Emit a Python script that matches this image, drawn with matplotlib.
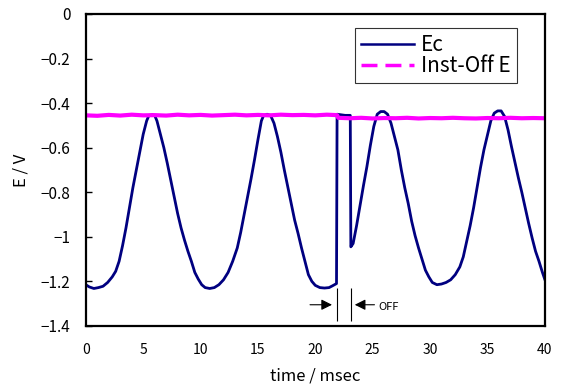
import matplotlib
matplotlib.use("Agg")
import matplotlib.pyplot as plt
from matplotlib.lines import Line2D
from matplotlib.ticker import FuncFormatter

plt.rcParams['font.family'] = ['Noto Sans CJK JP', 'DejaVu Sans']

# Ec (time in msec, E in V)
ec_time = [0.0, 0.3, 0.7, 1.1, 1.5, 1.9, 2.3, 2.6, 2.9, 3.2, 3.5, 3.8, 4.1, 4.4, 4.7,
           5.0, 5.3, 5.5, 5.8, 6.0, 6.2, 6.5, 6.8, 7.1, 7.4, 7.7, 8.0, 8.3, 8.6, 8.9,
           9.2, 9.5, 9.8, 10.1, 10.4, 10.8, 11.2, 11.6, 12.0, 12.4, 12.8, 13.2, 13.5,
           13.8, 14.1, 14.4, 14.7, 15.0, 15.3, 15.5, 15.8, 16.1, 16.4, 16.7, 17.0,
           17.3, 17.6, 17.9, 18.2, 18.5, 18.8, 19.1, 19.4, 19.7, 20.0, 20.4, 20.8,
           21.2, 21.5, 21.85, 21.9, 22.2, 22.6, 23.05, 23.1, 23.3, 23.6, 23.9, 24.2,
           24.5, 24.8, 25.1, 25.4, 25.7, 26.0, 26.3, 26.6, 26.9, 27.2, 27.5, 27.8,
           28.1, 28.4, 28.7, 29.0, 29.3, 29.6, 29.9, 30.2, 30.6, 31.0, 31.4, 31.8,
           32.2, 32.6, 32.9, 33.2, 33.5, 33.8, 34.1, 34.4, 34.7, 35.0, 35.3, 35.6,
           35.9, 36.2, 36.5, 36.8, 37.1, 37.4, 37.7, 38.0, 38.3, 38.6, 38.9, 39.2,
           39.5, 39.8, 40.0]
ec_value = [-1.215, -1.225, -1.232, -1.228, -1.222, -1.205, -1.18, -1.155, -1.11,
            -1.04, -0.96, -0.87, -0.78, -0.70, -0.62, -0.54, -0.48, -0.455, -0.452,
            -0.455, -0.48, -0.54, -0.60, -0.67, -0.745, -0.82, -0.895, -0.96, -1.015,
            -1.065, -1.11, -1.16, -1.19, -1.215, -1.228, -1.232, -1.228, -1.215,
            -1.193, -1.16, -1.11, -1.05, -0.98, -0.90, -0.82, -0.74, -0.655, -0.565,
            -0.48, -0.455, -0.45, -0.455, -0.49, -0.55, -0.62, -0.70, -0.775, -0.85,
            -0.925, -0.985, -1.05, -1.11, -1.17, -1.20, -1.218, -1.228, -1.23, -1.228,
            -1.22, -1.21, -0.45, -0.452, -0.455, -0.455, -1.045, -1.03, -0.95, -0.86,
            -0.77, -0.685, -0.59, -0.505, -0.45, -0.438, -0.438, -0.45, -0.49, -0.55,
            -0.61, -0.70, -0.78, -0.85, -0.93, -0.995, -1.05, -1.10, -1.15, -1.18,
            -1.205, -1.215, -1.212, -1.205, -1.193, -1.17, -1.135, -1.09, -1.02,
            -0.95, -0.87, -0.78, -0.69, -0.61, -0.545, -0.48, -0.445, -0.435, -0.435,
            -0.46, -0.52, -0.595, -0.665, -0.735, -0.80, -0.87, -0.94, -1.005, -1.065,
            -1.11, -1.16, -1.19]

# instant-off potential
off_time = [0, 1, 2, 3, 4, 5, 6, 7, 8, 9, 10, 11, 12, 13, 14, 15, 16, 17, 18, 19, 20,
            21, 21.9, 22.0, 23, 24, 25, 26, 27, 28, 29, 30, 31, 32, 33, 34, 35, 36, 37,
            38, 39, 40]
off_value = [-0.455, -0.457, -0.453, -0.456, -0.452, -0.455, -0.454, -0.456, -0.452,
             -0.455, -0.453, -0.456, -0.454, -0.452, -0.455, -0.453, -0.455, -0.452,
             -0.454, -0.453, -0.455, -0.452, -0.454, -0.466, -0.468, -0.466, -0.469,
             -0.467, -0.468, -0.466, -0.469, -0.467, -0.468, -0.466, -0.468, -0.469,
             -0.467, -0.468, -0.466, -0.468, -0.467, -0.468]

off_start, off_end = 21.9, 23.1

fig = plt.figure(figsize=(5.61, 3.88), dpi=100)
ax = fig.add_axes([0.153, 0.160, 0.818, 0.804])

ax.plot(ec_time, ec_value, color='#000080', lw=2, solid_joinstyle='round')
ax.plot(off_time, off_value, color='#ff00ff', lw=3)

ax.set_xlim(0, 40)
ax.set_ylim(-1.4, 0)
ax.set_xticks(range(0, 41, 5))
ax.set_yticks([-1.4, -1.2, -1.0, -0.8, -0.6, -0.4, -0.2, 0])
ax.yaxis.set_major_formatter(FuncFormatter(lambda v, p: ('%g' % v).replace('-', '\u2212')))
ax.tick_params(axis='y', direction='in', length=4, width=1, pad=11, labelsize=11)
ax.tick_params(axis='x', length=0, pad=12, labelsize=10)
for s in ax.spines.values():
    s.set_linewidth(1.6)

ax.set_xlabel('time / msec', fontsize=12, labelpad=8)
ax.set_ylabel('E / V', fontsize=12, labelpad=8)

# interruption marker
ax.vlines([off_start, off_end], -1.38, -1.23, color='black', lw=0.8)
ax.annotate('', xy=(off_start - 0.2, -1.305), xytext=(off_start - 2.6, -1.305),
            arrowprops=dict(arrowstyle='-|>', color='black', lw=0.8, mutation_scale=16))
ax.annotate('', xy=(off_end + 0.1, -1.305), xytext=(off_end + 2.3, -1.305),
            arrowprops=dict(arrowstyle='-|>', color='black', lw=0.8, mutation_scale=16))
ax.text(off_end + 2.4, -1.315, 'OFF', fontsize=8, va='center', ha='left')

handles = [Line2D([], [], color='#000080', lw=1.8),
           Line2D([], [], color='#ff00ff', lw=2.5, dashes=(4.6, 2.3))]
leg = ax.legend(handles, ['Ec', 'Inst-Off E'], loc='upper right',
                bbox_to_anchor=(0.939, 0.955), borderaxespad=0, fontsize=15,
                frameon=True, fancybox=False, handlelength=2.5, labelspacing=-0.05,
                borderpad=0.3, handletextpad=0.35)
leg.get_frame().set_edgecolor('black')
leg.get_frame().set_linewidth(0.8)

fig.savefig('out.png', dpi=100)
